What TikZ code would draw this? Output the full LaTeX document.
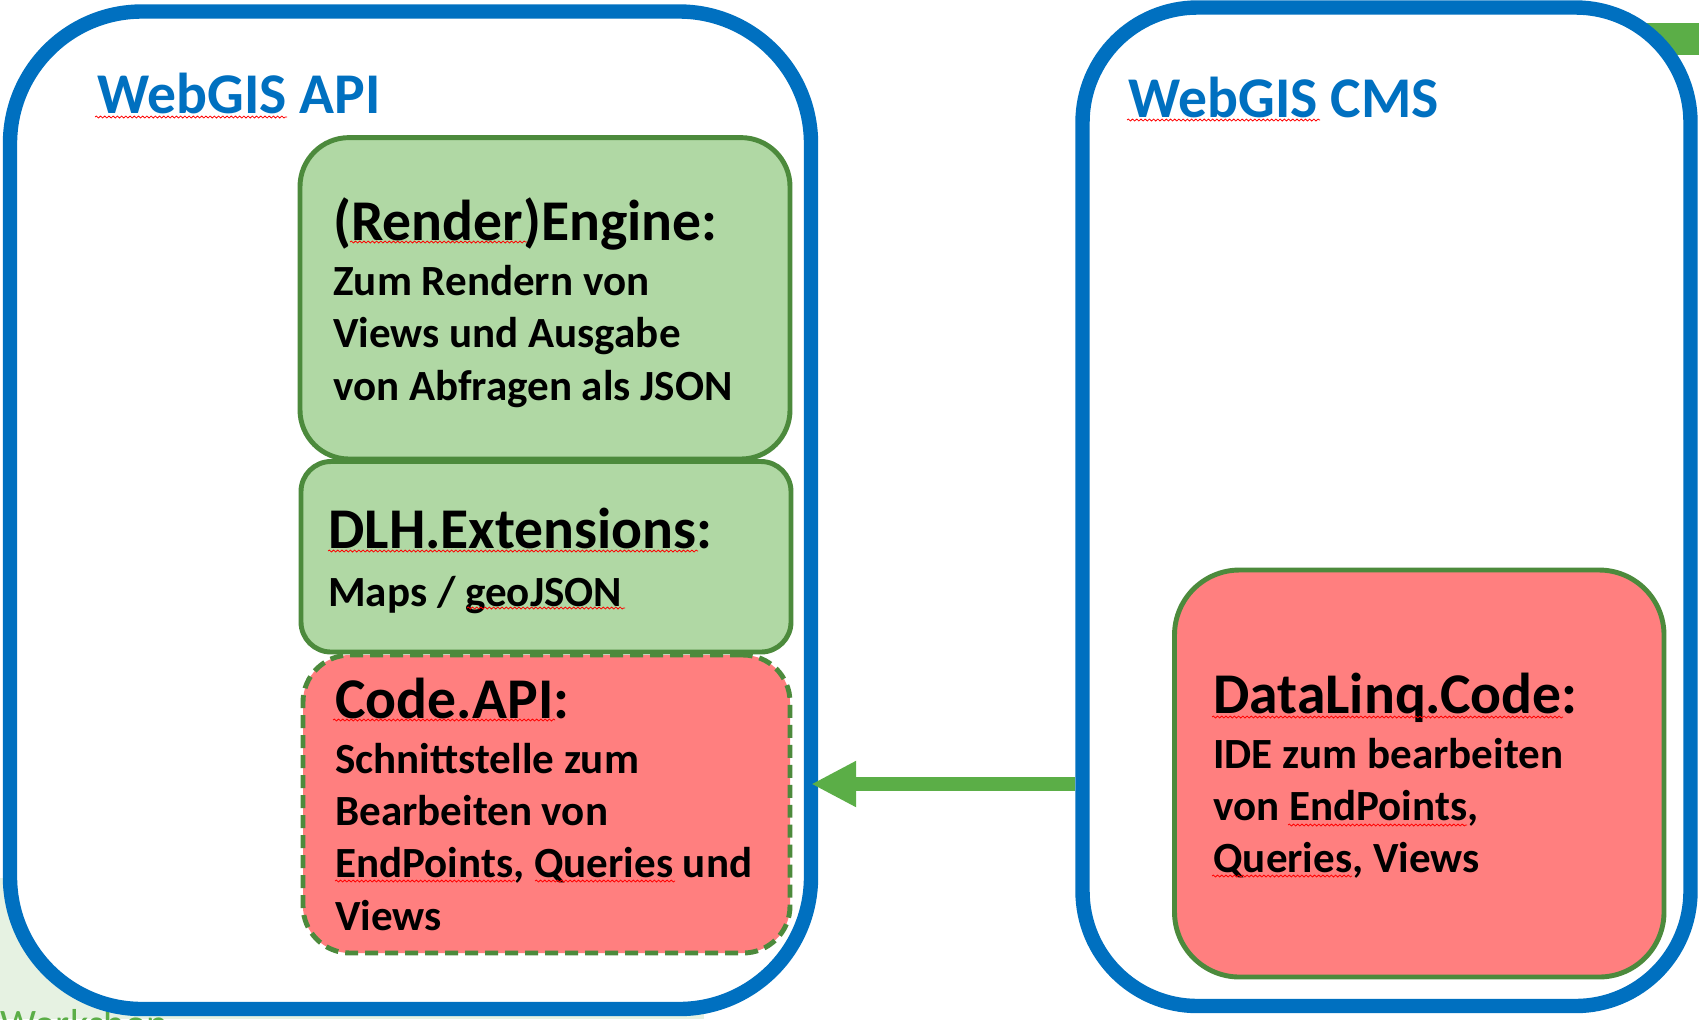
\documentclass[tikz,border=0pt]{standalone}
\usepackage{fontspec}
\setmainfont{Carlito}
\usetikzlibrary{fit,arrows.meta,decorations.pathmorphing}
\definecolor{boxblue}{HTML}{0070C0}
\definecolor{bordergreen}{HTML}{4C8A3C}
\definecolor{fillgreen}{HTML}{B0D8A4}
\definecolor{fillred}{HTML}{FF7F7F}
\definecolor{arrowgreen}{HTML}{5BAE47}
\definecolor{bggreen}{HTML}{E6F2E2}
\begin{document}
\begin{tikzpicture}[x=0.02cm,y=-0.02cm,
  outerbox/.style={draw=boxblue, fill=white, line width=8.2pt, inner sep=0pt},
  innerbox/.style={draw=bordergreen, line width=2.8pt, inner sep=0pt},
  head/.style={font=\fontsize{32.8}{38}\selectfont\bfseries, inner sep=0pt, anchor=base west},
  body/.style={font=\fontsize{24.5}{29}\selectfont\bfseries, inner sep=0pt, anchor=base west},
  title/.style={head, text=boxblue},
  spell/.style={draw=red, line width=0.45pt, decorate, decoration={snake, amplitude=0.55pt, segment length=2.4pt}},
  flow/.style={draw=arrowgreen, line width=8pt, -{Triangle[length=0.9cm, width=0.86cm]}}]
\useasboundingbox (0,0) rectangle (1699,1019);
\clip (0,0) rectangle (1699,1019);
% background fragments
\fill[bggreen] (0,878) rectangle (704,1019);
\fill[arrowgreen] (1600,23) rectangle (1699,55);
\node[anchor=base west, inner sep=0pt, text=arrowgreen, font=\fontsize{23}{26}\selectfont] (foot) at (0,1037) {Workshop};
% containers
\node[outerbox, rounded corners=2.64cm, fit={(10,11.5) (811,1009)}] (api) {};
\node[outerbox, rounded corners=2.3cm, fit={(1082.5,7.5) (1690.5,1006)}] (cms) {};
\coordinate (arr) at (0,784);
\draw[flow] (cms.west |- arr) -- ([xshift=-4pt]api.east |- arr);
% inner boxes
\node[innerbox, fill=fillgreen, rounded corners=0.98cm, fit={(300,137.6) (790,459)}] (engine) {};
\node[innerbox, fill=fillgreen, rounded corners=0.6cm, fit={(301,461.5) (791,652)}] (dlh) {};
\node[innerbox, fill=fillred, rounded corners=0.94cm, dash pattern=on 0.26cm off 0.14cm, fit={(303,655) (790,953)}] (codeapi) {};
\node[innerbox, fill=fillred, rounded corners=1.3cm, fit={(1174.5,570) (1664,977)}] (datalinq) {};
% titles
\node[title] (tapi) at (97,113) {WebGIS API};
\node[title] (tcms) at (1128,117) {WebGIS CMS};
% engine
\node[head] (eh) at (333,240) {(Render)Engine:};
\node[body] (e1) at (333,295) {Zum Rendern von};
\node[body] (e2) at (333,347.5) {Views und Ausgabe};
\node[body] (e3) at (333,400) {von Abfragen als JSON};
% dlh
\node[head] (dh) at (328,548) {DLH.Extensions:};
\node[body] (d1) at (328,606) {Maps / geoJSON};
% code api
\node[head] (ch) at (335,718) {Code.API:};
\node[body] (c1) at (335,773) {Schnittstelle zum};
\node[body] (c2) at (335,825.5) {Bearbeiten von};
\node[body] (c3) at (335,877.5) {EndPoints, Queries und};
\node[body] (c4) at (335,930) {Views};
% datalinq
\node[head] (lh) at (1213,713) {DataLinq.Code:};
\node[body] (l1) at (1213,768) {IDE zum bearbeiten};
\node[body] (l2) at (1213,820) {von EndPoints,};
\node[body] (l3) at (1213,872) {Queries, Views};
% spelling marks
\draw[spell] (95,117) -- (287,117);
\draw[spell] (1127,120) -- (1320,120);
\draw[spell] (350,242) -- (527,242);
\draw[spell] (328,551) -- (698,551);
\draw[spell] (467,608) -- (625,608);
\draw[spell] (333,720) -- (555,720);
\draw[spell] (335,881) -- (515,881);
\draw[spell] (535,881) -- (675,881);
\draw[spell] (1212,717) -- (1563,717);
\draw[spell] (1288,825) -- (1467,825);
\draw[spell] (1212,876) -- (1352,876);
\end{tikzpicture}
\end{document}
